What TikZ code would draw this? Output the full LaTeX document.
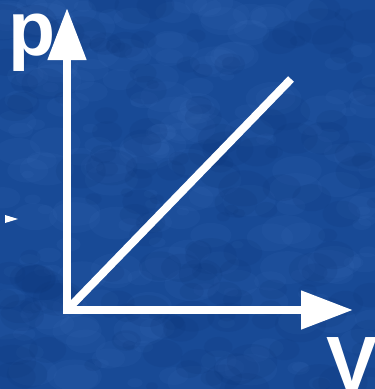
\documentclass[tikz,border=0pt]{standalone}
\usepackage{fontspec}
\setmainfont{Liberation Sans}
\usetikzlibrary{arrows.meta}
\definecolor{bgblue}{RGB}{24,74,150}
\definecolor{bglight}{RGB}{60,110,185}
\definecolor{bgdark}{RGB}{12,52,120}
\tikzset{
  axis/.style={draw=white, line width=8pt, -{Triangle[length=52pt,width=37pt]}},
  graphline/.style={draw=white, line width=8pt},
  biglabel/.style={text=white, inner sep=0pt, anchor=base west, font=\fontsize{77}{77}\bfseries\selectfont}
}
\begin{document}
\begin{tikzpicture}[x=1pt,y=-1pt]
\useasboundingbox (0,0) rectangle (375,389);
\begin{scope}
\clip (0,0) rectangle (375,389);
\fill[bgblue] (0,0) rectangle (375,389);
\pgfmathsetseed{42}
\foreach \i in {1,...,220}{
  \pgfmathsetmacro{\xx}{rnd*375}
  \pgfmathsetmacro{\yy}{rnd*389}
  \pgfmathsetmacro{\rr}{6+rnd*22}
  \fill[bglight, opacity=0.12] (\xx,\yy) ellipse [x radius=\rr, y radius=\rr*0.6];
}
\foreach \i in {1,...,160}{
  \pgfmathsetmacro{\xx}{rnd*375}
  \pgfmathsetmacro{\yy}{rnd*389}
  \pgfmathsetmacro{\rr}{6+rnd*20}
  \fill[bgdark, opacity=0.15] (\xx,\yy) ellipse [x radius=\rr, y radius=\rr*0.7];
}
\coordinate (O) at (67,310);
\coordinate (Ob) at (67,314);
\coordinate (Ol) at (63,310);
\coordinate (Ptop) at (67,8);
\coordinate (Vend) at (353,310);
\coordinate (Lend) at (291,79);
\draw[graphline] (O) -- (Lend);
\draw[axis] (Ob) -- (Ptop);
\draw[axis] (Ol) -- (Vend);
\node[biglabel] (plabel) at (8,55) {p};
\node[biglabel] (vlabel) at (326,390) {V};
\fill[white] (5,215) -- (18,219) -- (5,223) -- cycle;
\end{scope}
\end{tikzpicture}
\end{document}
